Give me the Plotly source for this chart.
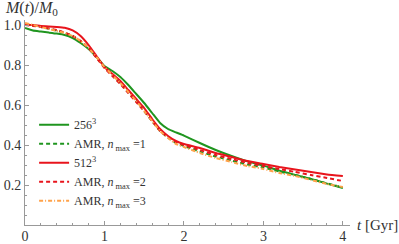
import plotly.graph_objects as go

t = [0, 0.1, 0.2, 0.3, 0.4, 0.5, 0.6, 0.7, 0.8, 0.9, 1.0, 1.1, 1.2, 1.3, 1.4, 1.5,
     1.6, 1.7, 1.8, 1.9, 2.0, 2.2, 2.4, 2.6, 2.8, 3.0, 3.2, 3.4, 3.6, 3.8, 4.0]

m_256 = [0.985, 0.972, 0.967, 0.962, 0.957, 0.950, 0.935, 0.910, 0.880, 0.840, 0.795,
         0.770, 0.740, 0.700, 0.655, 0.610, 0.560, 0.510, 0.480, 0.463, 0.447,
         0.410, 0.375, 0.345, 0.318, 0.297, 0.272, 0.250, 0.230, 0.207, 0.185]
m_amr1 = [1.005, 0.997, 0.990, 0.981, 0.972, 0.961, 0.945, 0.920, 0.885, 0.838, 0.788,
          0.748, 0.708, 0.663, 0.618, 0.570, 0.520, 0.470, 0.437, 0.410, 0.395,
          0.367, 0.342, 0.322, 0.302, 0.287, 0.267, 0.250, 0.230, 0.208, 0.188]
m_512 = [1.000, 1.000, 0.995, 0.993, 0.990, 0.986, 0.973, 0.945, 0.900, 0.845, 0.790,
         0.755, 0.720, 0.675, 0.630, 0.585, 0.530, 0.480, 0.445, 0.420, 0.405,
         0.385, 0.360, 0.340, 0.320, 0.305, 0.290, 0.278, 0.265, 0.253, 0.245]
m_amr2 = [1.000, 0.995, 0.990, 0.983, 0.975, 0.962, 0.945, 0.920, 0.885, 0.835, 0.785,
          0.745, 0.705, 0.660, 0.615, 0.570, 0.520, 0.470, 0.440, 0.415, 0.400,
          0.375, 0.350, 0.330, 0.310, 0.295, 0.280, 0.265, 0.250, 0.235, 0.220]
m_amr3 = [1.010, 1.000, 0.990, 0.980, 0.970, 0.960, 0.945, 0.920, 0.885, 0.840, 0.790,
          0.750, 0.710, 0.665, 0.620, 0.570, 0.520, 0.470, 0.435, 0.405, 0.390,
          0.360, 0.335, 0.315, 0.295, 0.280, 0.260, 0.245, 0.225, 0.205, 0.190]

labels = ["256<sup>3</sup>", "AMR, <i>n</i><sub> max</sub> =1", "512<sup>3</sup>",
          "AMR, <i>n</i><sub> max</sub> =2", "AMR, <i>n</i><sub> max</sub> =3"]

GREEN = "#1f951f"
RED = "#e8141c"
ORANGE = "#ffa24a"
SERIF = "Liberation Serif"

fig = go.Figure()
series = [
    (m_amr1, labels[1], GREEN, "4px,3px", 2),
    (m_256, labels[0], GREEN, "solid", 1),
    (m_512, labels[2], RED, "solid", 3),
    (m_amr2, labels[3], RED, "4px,3px", 4),
    (m_amr3, labels[4], ORANGE, "4px,2px,1px,2px", 5),
]
for y, name, col, dash, rank in series:
    fig.add_trace(go.Scatter(x=t, y=y, mode="lines", name=name, legendrank=rank,
                             line=dict(color=col, width=2, dash=dash, shape="spline",
                                       smoothing=0.4)))

axis_common = dict(showgrid=False, zeroline=False, showline=True, linecolor="#999999",
                   linewidth=1, ticks="inside", ticklen=4, tickcolor="#999999",
                   automargin=False,
                   tickfont=dict(family=SERIF, size=14, color="#333333"))
fig.update_xaxes(range=[0, 4.09], tickvals=[0, 1, 2, 3, 4], ticklabelstandoff=-2,
                 minor=dict(dtick=0.2, ticklen=2, ticks="inside", tickcolor="#999999"),
                 **axis_common)
fig.update_yaxes(range=[0, 1.025], tickvals=[0.2, 0.4, 0.6, 0.8, 1.0],
                 ticktext=["0.2", "0.4", "0.6", "0.8", "1.0"],
                 minor=dict(dtick=0.05, ticklen=2, ticks="inside", tickcolor="#999999"),
                 **axis_common)

fig.add_annotation(xref="paper", yref="paper", x=-0.068, y=1.0, xanchor="left",
                   yanchor="bottom", showarrow=False,
                   text="<i>M</i>(<i>t</i>)/<i>M</i><sub>0</sub>",
                   font=dict(family=SERIF, size=16, color="#333333"))
fig.add_annotation(xref="paper", yref="paper", x=1.015, y=0.0, xanchor="left",
                   yanchor="middle", showarrow=False, text="<i>t</i> [Gyr]",
                   font=dict(family=SERIF, size=15, color="#333333"))

fig.update_layout(
    width=399, height=244, plot_bgcolor="white", paper_bgcolor="white",
    margin=dict(l=25, r=49, t=20, b=19),
    legend=dict(x=0.028, y=0.56, xanchor="left", yanchor="top", bgcolor="rgba(0,0,0,0)",
                font=dict(family=SERIF, size=12, color="#333333"), tracegroupgap=0,
                itemwidth=30),
)
fig.write_html("out.html", config={"displayModeBar": False},
               post_script="document.body.style.margin='0';")
